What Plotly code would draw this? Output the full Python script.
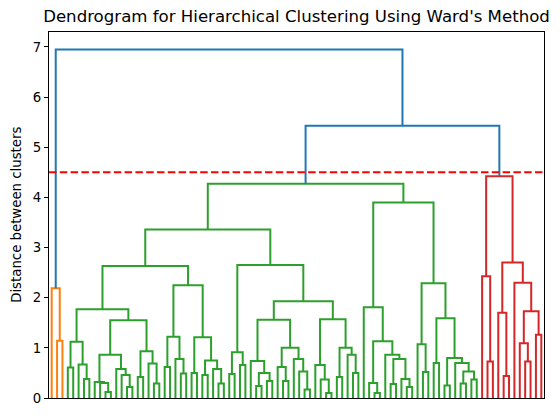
import plotly.graph_objects as go

# ---------------- data ----------------
# Tree nodes are (merge_height, left_child, right_child); L marks a leaf.
L = None

ORANGE = (2.19, L, (1.14, L, L))

GREEN_A = (1.77,
           (1.12, (0.61, L, L), (0.67, L, (0.38, L, L))),
           (1.55,
            (0.86, (0.32, L, (0.30, L, (0.12, L, L))),
                   (0.58, L, (0.46, L, (0.22, L, L)))),
            (0.93, (0.42, L, L), (0.69, L, (0.29, L, L)))))

GREEN_B = (2.25,
           (1.22, (0.62, L, L), (0.78, L, (0.49, L, L))),
           (1.21, (0.50, L, L), (0.75, (0.46, L, L), (0.58, L, (0.29, L, L)))))

GREEN_C = (2.65,
           (0.91, (0.48, L, L), (0.66, L, L)),
           (1.93,
            (1.56,
             (0.74, L, (0.50, (0.24, L, L), (0.34, L, L))),
             (1.00, (0.62, L, (0.34, L, L)), (0.78, L, (0.53, L, (0.17, L, L))))),
            (1.57,
             (0.66, L, (0.37, L, (0.10, L, L))),
             (1.00, (0.42, L, L), (0.86, L, (0.50, L, L))))))

GREEN_D = (3.90,
           (1.81, L,
            (1.13, (0.30, L, (0.10, L, L)),
                   (0.86, L, (0.78, (0.28, L, L), (0.38, L, (0.22, L, L)))))),
           (2.29,
            (1.07, L, (0.52, L, L)),
            (1.59, (0.70, L, L),
                   (0.80, (0.25, L, L), (0.70, L, (0.53, (0.29, L, L), (0.37, L, L)))))))

GREEN = (4.27, (3.36, (2.63, GREEN_A, GREEN_B), GREEN_C), GREEN_D)

RED = (4.42,
       (2.43, L, (0.73, L, L)),
       (2.70, (1.70, L, (0.44, L, L)),
              (2.30, L, (1.73, (1.09, L, (0.73, L, L)), (1.26, L, L)))))

ROOT = (6.95, ORANGE, (5.43, GREEN, RED))

CUT_HEIGHT = 4.5
ABOVE_COLOR = "#1f77b4"
CLUSTER_COLORS = ["#ff7f0e", "#2ca02c", "#d62728"]
TITLE = "Dendrogram for Hierarchical Clustering Using Ward's Method"
Y_LABEL = "Distance between clusters"
Y_TICKS = [0, 1, 2, 3, 4, 5, 6, 7]

# ---------------- layout of the tree ----------------
segments = {}
leaf_counter = [0]
cluster_counter = [0]


def place(node, color):
    if node is None:
        x = 5 + 10 * leaf_counter[0]
        leaf_counter[0] += 1
        return x, 0.0
    h, left, right = node
    if color is None and h <= CUT_HEIGHT:
        color = CLUSTER_COLORS[cluster_counter[0] % len(CLUSTER_COLORS)]
        cluster_counter[0] += 1
    xl, hl = place(left, color)
    xr, hr = place(right, color)
    c = color if color is not None else ABOVE_COLOR
    xs, ys = segments.setdefault(c, ([], []))
    xs.extend([xl, xl, xr, xr, None])
    ys.extend([hl, h, h, hr, None])
    return (xl + xr) / 2, h


place(ROOT, None)
n_leaves = leaf_counter[0]

fig = go.Figure()
for c in CLUSTER_COLORS + [ABOVE_COLOR]:
    if c in segments:
        xs, ys = segments[c]
        fig.add_trace(go.Scatter(x=xs, y=ys, mode="lines",
                                 line=dict(color=c, width=2),
                                 hoverinfo="skip", showlegend=False))

fig.add_shape(type="line", xref="paper", x0=0, x1=1, yref="y",
              y0=CUT_HEIGHT, y1=CUT_HEIGHT,
              line=dict(color="#ff0000", width=2, dash="7.5px,3.3px"))

font = "DejaVu Sans, Arial, sans-serif"
fig.update_layout(
    width=560, height=418,
    margin=dict(l=49, r=16, t=32, b=18),
    plot_bgcolor="white", paper_bgcolor="white",
    font=dict(family=font, color="black", size=13.3),
    title=dict(text=TITLE, x=0.5, xref="paper", xanchor="center",
               y=1 - 16 / 418, yref="container", yanchor="middle",
               font=dict(family=font, size=16.6, color="black")),
    xaxis=dict(range=[0, 10 * n_leaves], showticklabels=False, ticks="",
               showgrid=False, zeroline=False, showline=True, mirror=True,
               linecolor="black", linewidth=1),
    yaxis=dict(range=[0, ROOT[0] * 1.05],
               tickvals=Y_TICKS, ticks="outside", ticklen=4, tickwidth=1,
               tickcolor="black", showgrid=False, zeroline=False,
               showline=True, mirror=True, linecolor="black", linewidth=1,
               tickfont=dict(family=font, size=13.3, color="black")),
    annotations=[dict(text=Y_LABEL, xref="paper", yref="paper",
                      x=-0.067, y=0.5, xanchor="center", yanchor="middle",
                      textangle=-90, showarrow=False,
                      font=dict(family=font, size=13.3, color="black"))],
)

fig.write_html("out.html")
